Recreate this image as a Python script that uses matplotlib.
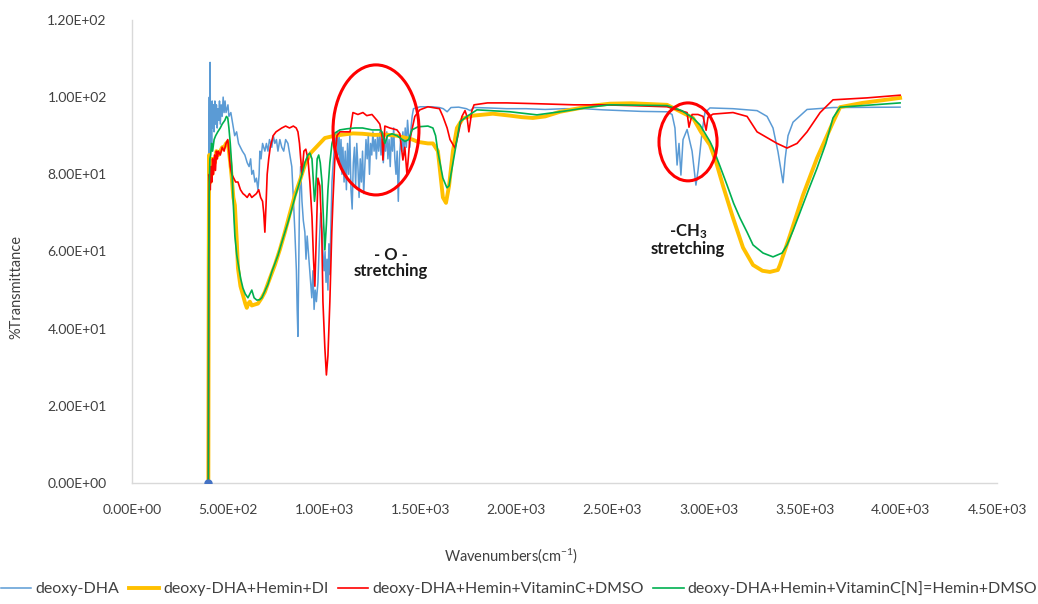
import matplotlib
matplotlib.use("Agg")
import matplotlib.pyplot as plt
from matplotlib.patches import Ellipse
from matplotlib.ticker import FuncFormatter, MultipleLocator

plt.rcParams['font.family'] = ['Lato', 'DejaVu Sans']
plt.rcParams['mathtext.default'] = 'regular'

# FTIR spectra: (wavenumber cm-1, %transmittance)
deoxy_dha = [
    (398, 0), (400, 85), (403, 100), (405, 82), (407, 109), (409, 90), (412, 97), (415, 88),
    (418, 99), (421, 92), (425, 98), (428, 91), (432, 99), (436, 93), (440, 98), (444, 92),
    (448, 97), (452, 94), (456, 99), (460, 93), (465, 98), (470, 95), (475, 100), (480, 96),
    (485, 99), (490, 96), (495, 97), (500, 98), (505, 95), (515, 96), (525, 93), (535, 90),
    (545, 91), (555, 88), (565, 87), (575, 86), (588, 85), (600, 83), (610, 82), (618, 84),
    (624, 80), (632, 81), (640, 78), (648, 79), (656, 76), (662, 80), (666, 86), (672, 84),
    (680, 88), (692, 86), (700, 88), (708, 86), (716, 89), (728, 87), (736, 90), (744, 88),
    (752, 89), (760, 86), (770, 89), (780, 87), (790, 86), (800, 89), (812, 88), (822, 85),
    (832, 82), (840, 74), (848, 65), (856, 55), (860, 45), (864, 38), (868, 55), (872, 73),
    (878, 82), (885, 73), (892, 68), (900, 65), (906, 58), (912, 64), (918, 60), (924, 56),
    (930, 52), (936, 48), (942, 55), (948, 45), (954, 50), (960, 47), (968, 52), (975, 62),
    (982, 70), (989, 65), (995, 59), (1000, 55), (1005, 60), (1010, 52), (1015, 58), (1020, 50),
    (1025, 62), (1030, 54), (1036, 68), (1041, 78), (1046, 82), (1052, 86), (1056, 90),
    (1062, 88), (1067, 91), (1072, 85), (1078, 90), (1082, 82), (1088, 89), (1093, 80),
    (1098, 87), (1104, 78), (1110, 86), (1116, 76), (1122, 88), (1128, 80), (1134, 90),
    (1140, 76), (1146, 71), (1152, 83), (1158, 87), (1164, 77), (1170, 88), (1176, 82),
    (1182, 74), (1188, 84), (1194, 78), (1200, 86), (1206, 75), (1212, 82), (1218, 89),
    (1224, 84), (1230, 90), (1236, 80), (1242, 88), (1248, 85), (1254, 91), (1260, 86),
    (1266, 89), (1272, 84), (1278, 90), (1284, 86), (1290, 91), (1296, 85), (1302, 89),
    (1308, 83), (1314, 88), (1320, 86), (1326, 91), (1332, 84), (1338, 89), (1344, 82),
    (1350, 90), (1356, 86), (1362, 92), (1368, 84), (1374, 80), (1380, 86), (1386, 73),
    (1392, 84), (1398, 89), (1404, 86), (1410, 91), (1416, 85), (1422, 92), (1428, 87),
    (1434, 94), (1440, 90), (1446, 87), (1452, 92), (1458, 95), (1465, 97), (1500, 97.5),
    (1560, 97.5), (1600, 97.3), (1620, 97), (1640, 96.2), (1660, 97.3), (1700, 97.4),
    (1740, 97), (1760, 96.5), (1780, 97.3), (1850, 97.2), (1950, 97), (2050, 97), (2150, 96.8),
    (2250, 97), (2350, 97), (2450, 96.7), (2550, 96.5), (2650, 96.3), (2784, 96.2),
    (2810, 95.5), (2825, 92), (2836, 82.4), (2846, 88), (2856, 79.8), (2867, 89), (2888, 91.6),
    (2914, 86), (2934, 77.2), (2945, 81), (2966, 91), (2981, 96), (3007, 97.2), (3127, 97),
    (3252, 96.5), (3304, 95), (3335, 92), (3361, 85.8), (3387, 77.8), (3398, 84), (3413, 90),
    (3439, 93.5), (3512, 96.8), (3647, 97.3), (3996, 97.4),
]

deoxy_dha_hemin_di = [
    (398, 0), (399, 30), (400, 59), (402, 85), (404, 80), (407, 83), (410, 78), (413, 84),
    (418, 80), (425, 84), (432, 83), (440, 86), (450, 85), (460, 86), (470, 87), (480, 87),
    (490, 88), (499, 88.4), (505, 86), (512, 83), (520, 79), (528, 74), (536, 72), (546, 62.5),
    (552, 55.7), (565, 51), (578, 48.7), (590, 46.5), (598, 45.4), (606, 46.5), (614, 47),
    (624, 46), (636, 46.2), (656, 46.5), (676, 48), (692, 49.5), (710, 52), (744, 56.5),
    (770, 60.5), (796, 65), (820, 69.5), (848, 74.6), (875, 78.5), (900, 82.4), (930, 85.5),
    (968, 87.5), (1004, 89.4), (1056, 90), (1100, 90.3), (1150, 90.6), (1200, 90.5),
    (1264, 90.2), (1316, 90.3), (1380, 90), (1420, 89.5), (1460, 89), (1488, 88.4),
    (1540, 88), (1566, 88), (1592, 86), (1618, 74), (1634, 72.6), (1650, 77), (1670, 86),
    (1691, 92), (1722, 94.5), (1774, 95.2), (1878, 95.7), (1967, 95.2), (2030, 94.8),
    (2086, 94.6), (2150, 95), (2227, 96.2), (2399, 97.8), (2487, 98.3), (2600, 98.4),
    (2784, 98), (2919, 94.6), (2960, 91), (3007, 87.6), (3040, 83), (3075, 77), (3100, 73),
    (3127, 68.7), (3179, 61), (3231, 56.5), (3280, 55), (3319, 54.7), (3360, 55.2),
    (3371, 56.5), (3424, 64.3), (3491, 74.6), (3564, 84.2), (3647, 93.5), (3684, 97.4),
    (3800, 98.5), (3996, 99.8),
]

deoxy_dha_hemin_vitc_dmso = [
    (398, 0), (400, 55), (403, 80), (408, 76), (412, 82), (416, 78), (420, 84), (425, 80),
    (430, 85), (435, 81), (440, 86), (445, 84), (450, 86), (460, 85), (470, 87), (480, 86),
    (490, 88), (499, 89), (505, 86), (512, 82), (520, 80), (530, 79), (540, 78), (552, 78),
    (565, 76), (578, 75), (588, 74.6), (600, 74), (612, 75), (624, 74), (636, 74.5), (648, 75),
    (660, 76), (670, 74), (680, 73), (686, 70), (692, 65), (698, 72), (704, 80), (712, 84),
    (720, 87), (735, 90), (750, 91), (765, 91.5), (780, 92), (800, 92.5), (820, 92),
    (840, 92.5), (855, 92), (864, 91), (872, 88), (885, 80), (895, 86), (905, 86.5), (916, 84),
    (926, 78), (937, 69), (945, 58), (952, 51), (960, 65), (968, 79), (978, 77), (988, 65),
    (994, 47), (1004, 35), (1012, 28), (1020, 33), (1030, 47), (1040, 65), (1046, 73),
    (1056, 84), (1067, 90), (1082, 91), (1135, 91), (1150, 96), (1176, 95.5), (1202, 96),
    (1222, 95.2), (1249, 95.5), (1275, 94), (1290, 93), (1301, 90), (1306, 83.7),
    (1316, 92.5), (1342, 92), (1379, 91.5), (1394, 90.5), (1410, 83.7), (1420, 87),
    (1431, 80), (1446, 89), (1472, 95), (1498, 96.7), (1540, 97.5), (1600, 97), (1618, 95),
    (1640, 92), (1655, 89), (1681, 86.8), (1696, 90), (1717, 95), (1733, 96.5), (1743, 95),
    (1753, 91), (1769, 96.5), (1780, 98), (1850, 98.5), (1950, 98.5), (2100, 98.3),
    (2300, 98), (2450, 98), (2600, 97.8), (2784, 97.5), (2888, 96), (2898, 92.2),
    (2914, 95.5), (2945, 95.5), (2971, 95), (2987, 91.4), (2997, 94.8), (3023, 95.6),
    (3127, 96), (3200, 95), (3252, 91), (3304, 89.5), (3356, 88), (3408, 86.8), (3460, 88),
    (3512, 91), (3580, 96), (3647, 99.3), (3824, 99.8), (3996, 100.5),
]

deoxy_dha_hemin_vitc_n_dmso = [
    (398, 0), (400, 60), (403, 78), (406, 84), (410, 85), (415, 88), (420, 86), (428, 89),
    (436, 90), (447, 91), (460, 92), (470, 93), (484, 94), (492, 95), (499, 94.6), (505, 92),
    (512, 88), (520, 82), (528, 72), (536, 64), (546, 59), (556, 56), (566, 53), (578, 50.5),
    (590, 49), (604, 48), (614, 49), (624, 50), (636, 48), (650, 47.4), (665, 47.5),
    (676, 48), (690, 49.5), (708, 51.5), (730, 55), (760, 59), (790, 64), (812, 67.5),
    (832, 71), (848, 74), (864, 76.5), (885, 80), (900, 83), (916, 85), (926, 85.5),
    (937, 84), (942, 80), (950, 73), (956, 76), (964, 84), (972, 85), (980, 83), (989, 78),
    (997, 68), (1004, 60.4), (1012, 67), (1020, 76), (1030, 83), (1041, 88), (1056, 90.7),
    (1082, 91.5), (1120, 91.8), (1160, 92), (1200, 92), (1250, 91.5), (1290, 91.5),
    (1301, 91), (1316, 88), (1330, 90), (1353, 90.5), (1380, 90), (1420, 88.5), (1440, 89),
    (1457, 91.5), (1488, 92.3), (1540, 92.5), (1566, 92), (1580, 90), (1592, 85.8),
    (1618, 79), (1639, 76.5), (1650, 77), (1660, 80), (1681, 86), (1707, 93.6), (1743, 95),
    (1795, 96.7), (1967, 96.2), (2107, 95.4), (2227, 96.2), (2399, 97.5), (2487, 98),
    (2784, 97.8), (2860, 96.5), (2919, 94.6), (2955, 92.8), (3007, 88.5), (3023, 86.8),
    (3060, 82), (3096, 77.2), (3130, 72.5), (3163, 68.7), (3200, 65), (3231, 61.7),
    (3283, 59.6), (3335, 58.6), (3382, 59.6), (3408, 61.7), (3440, 65.5), (3476, 70.2),
    (3520, 76), (3564, 81.6), (3610, 88), (3647, 94.6), (3684, 97.4), (3800, 97.8),
    (3996, 98.5),
]

labels = [
    "deoxy-DHA",
    "deoxy-DHA+Hemin+DI",
    "deoxy-DHA+Hemin+VitaminC+DMSO",
    "deoxy-DHA+Hemin+VitaminC[N]=Hemin+DMSO",
]
colors = ["#5b9bd5", "#ffc000", "#ff0000", "#00b050"]
widths = [1.1, 2.8, 1.2, 1.2]

# band annotations: ellipse (centre wn, centre %T, width, height), label text and its position
bands = [
    (1270, 91.5, 447, 33.7, "- O -\nstretching", 1348, 57.0),
    (2893, 88.4, 302, 20.2, "-CH$_3$\nstretching", 2893, 63.0),
]

fig = plt.figure(figsize=(10.38, 6.04), dpi=100)
ax = fig.add_axes([0.127, 0.2003, 0.8335, 0.7667])

for data, lab, col, lw in zip(
    [deoxy_dha, deoxy_dha_hemin_di, deoxy_dha_hemin_vitc_dmso, deoxy_dha_hemin_vitc_n_dmso],
    labels, colors, widths,
):
    wn = [p[0] for p in data]
    tr = [p[1] for p in data]
    ax.plot(wn, tr, color=col, lw=lw, label=lab, solid_joinstyle="round")
    if data is deoxy_dha:
        ax.plot(wn[0], tr[0], "o", color="#4472c4", ms=5, zorder=5)

for cx, cy, w, h, txt, tx, ty in bands:
    ax.add_patch(Ellipse((cx, cy), w, h, fill=False, edgecolor="#ff0000", lw=2.2, zorder=6))
    ax.text(tx, ty, txt, ha="center", va="center", fontsize=12, fontweight="bold",
            linespacing=1.0, color="#1a1a1a")

ax.set_xlim(0, 4500)
ax.set_ylim(0, 120)
ax.xaxis.set_major_locator(MultipleLocator(500))
ax.yaxis.set_major_locator(MultipleLocator(20))
fmt = FuncFormatter(lambda v, pos: format(v, ".2E"))
ax.xaxis.set_major_formatter(fmt)
ax.yaxis.set_major_formatter(fmt)
ax.tick_params(axis="both", length=0, labelsize=10, colors="#404040")
ax.tick_params(axis="y", pad=18)
ax.tick_params(axis="x", pad=15)

for side in ("top", "right"):
    ax.spines[side].set_visible(False)
for side in ("left", "bottom"):
    ax.spines[side].set_color("#d9d9d9")
    ax.spines[side].set_linewidth(1.0)

ax.set_xlabel("Wavenumbers(cm$^{-1}$)", fontsize=10.5, color="#404040")
ax.set_ylabel("%Transmittance", fontsize=10.5, color="#404040")
ax.xaxis.set_label_coords(0.438, -0.136)
ax.yaxis.set_label_coords(-0.125, 0.423)

fig.legend(loc="center", bbox_to_anchor=(0.5, 0.025), ncol=4, frameon=False,
           fontsize=11.5, handlelength=1.9, columnspacing=0.6, handletextpad=0.25,
           labelcolor="#404040")

fig.savefig("out.png", dpi=100)
